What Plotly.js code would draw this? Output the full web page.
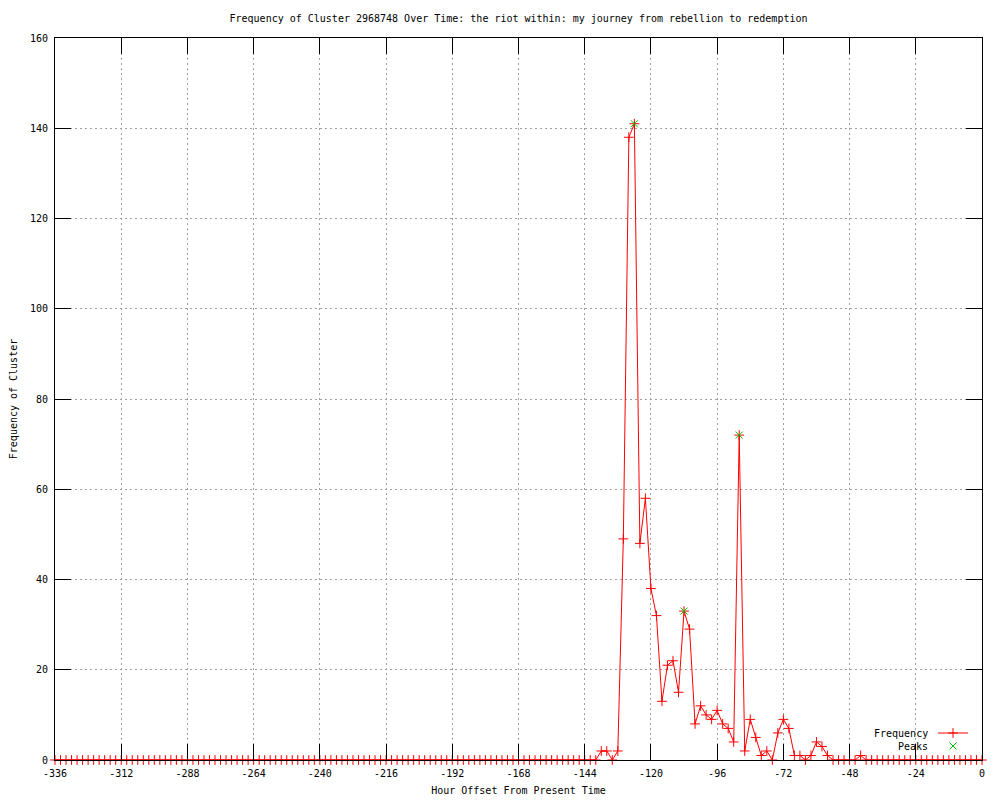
<!DOCTYPE html>
<html>
<head>
<meta charset="utf-8">
<script src="https://cdn.plot.ly/plotly-3.0.1.min.js"></script>
<style>html,body{margin:0;padding:0;background:#fff;}#chart{width:1000px;height:800px;}</style>
</head>
<body>
<div id="chart"></div>
<script>
// Hour offsets: -336 .. 0, every 2 hours
var hours = [];
for (var h = -336; h <= 0; h += 2) hours.push(h);

// Frequency values (one per hour offset above)
var frequency = [
  0,0,0,0,0,0,0,0,0,0, 0,0,0,0,0,0,0,0,0,0,
  0,0,0,0,0,0,0,0,0,0, 0,0,0,0,0,0,0,0,0,0,
  0,0,0,0,0,0,0,0,0,0, 0,0,0,0,0,0,0,0,0,0,
  0,0,0,0,0,0,0,0,0,0, 0,0,0,0,0,0,0,0,0,0,
  0,0,0,0,0,0,0,0,0,0, 0,0,0,0,0,0,0,0,0,
  // -138 .. -44
  2,2,0,2,49,138,141,48,58,38,
  32,13,21,22,15,33,29,8,12,10,
  9,11,8,7,4,72,2,9,5,1,
  2,0,6,9,7,1,1,0,1,4,
  3,1,0,0,0,0,0,1,
  // -42 .. 0
  0,0,0,0,0,0,0,0,0,0,0,0,0,0,0,0,0,0,0,0,0,0
];

var peakHours = [-126, -108, -88];
var peakValues = [141, 33, 72];

var seriesNames = ["Frequency", "Peaks"];
var xTickVals = [-336,-312,-288,-264,-240,-216,-192,-168,-144,-120,-96,-72,-48,-24,0];
var yTickVals = [0,20,40,60,80,100,120,140,160];

var mono = "DejaVu Sans Mono, monospace";

var traces = [
  {
    x: hours, y: frequency, name: "", type: "scatter", mode: "lines+markers",
    line: {color: "#ff0000", width: 1},
    marker: {symbol: "cross-thin-open", size: 7, line: {color: "#ff0000", width: 1}, color: "#ff0000"},
    cliponaxis: false,
    legend: "legend", hoverinfo: "x+y"
  },
  {
    x: peakHours, y: peakValues, name: "", type: "scatter", mode: "markers",
    marker: {symbol: "x-thin-open", size: 7, line: {color: "#00c000", width: 1}, color: "#00c000"},
    cliponaxis: false,
    legend: "legend2", hoverinfo: "x+y"
  }
];

var axisCommon = {
  showline: true, linecolor: "#000", linewidth: 1, mirror: "ticks",
  ticks: "inside", ticklen: 16, tickcolor: "#000", tickwidth: 1,
  showgrid: true, gridcolor: "#a0a0a0", gridwidth: 1, griddash: "2px,3px",
  zeroline: false, layer: "above traces",
  tickfont: {family: mono, size: 10, color: "#000"}
};

var layout = {
  width: 1000, height: 800,
  margin: {l: 55, r: 18, t: 38, b: 40},
  paper_bgcolor: "#fff", plot_bgcolor: "#fff",
  font: {family: mono, size: 10, color: "#000"},
  title: {
    text: "Frequency of Cluster 2968748 Over Time: the riot within: my journey from rebellion to redemption",
    font: {family: mono, size: 10, color: "#000"},
    xref: "paper", x: 0.5, xanchor: "center",
    yref: "container", y: 1 - 18/800, yanchor: "middle"
  },
  xaxis: Object.assign({}, axisCommon, {
    range: [-336, 0], tickvals: xTickVals, ticktext: xTickVals.map(String),
    ticklabelstandoff: 4,
    title: {text: "Hour Offset From Present Time", font: {family: mono, size: 10, color: "#000"}, standoff: 8}
  }),
  yaxis: Object.assign({}, axisCommon, {
    range: [0, 160], tickvals: yTickVals, ticktext: yTickVals.map(String),
    ticklabelstandoff: 4,
    title: {text: "Frequency of Cluster", font: {family: mono, size: 10, color: "#000"}, standoff: 10}
  }),
  showlegend: true,
  legend: {
    x: (933 - 55) / 927, xanchor: "left", xref: "paper",
    y: (760 - 733) / 722, yanchor: "middle", yref: "paper",
    bgcolor: "rgba(0,0,0,0)", borderwidth: 0,
    font: {family: mono, size: 10}, itemwidth: 30
  },
  legend2: {
    x: (933 - 55) / 927, xanchor: "left", xref: "paper",
    y: (760 - 746) / 722, yanchor: "middle", yref: "paper",
    bgcolor: "rgba(0,0,0,0)", borderwidth: 0,
    font: {family: mono, size: 10}, itemwidth: 30
  },
  annotations: [
    {text: seriesNames[0], xref: "paper", yref: "paper", x: (930 - 55) / 927, y: (760 - 733) / 722,
     xanchor: "right", yanchor: "middle", showarrow: false, font: {family: mono, size: 10, color: "#000"}},
    {text: seriesNames[1], xref: "paper", yref: "paper", x: (930 - 55) / 927, y: (760 - 746) / 722,
     xanchor: "right", yanchor: "middle", showarrow: false, font: {family: mono, size: 10, color: "#000"}}
  ]
};

Plotly.newPlot("chart", traces, layout, {displayModeBar: false, staticPlot: true});
</script>
</body>
</html>
